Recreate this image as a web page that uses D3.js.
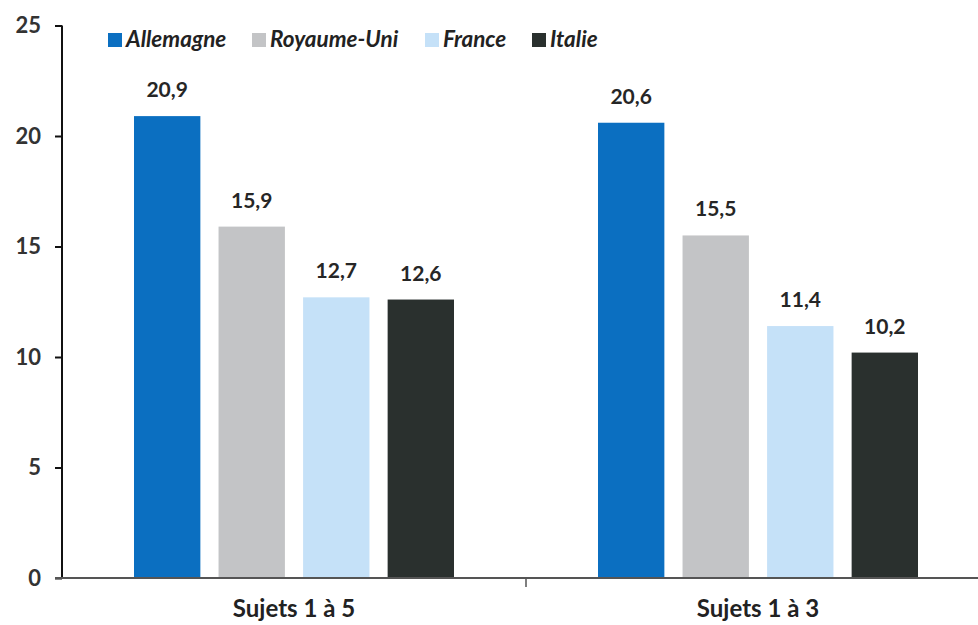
<!DOCTYPE html>
<html>
<head>
<meta charset="utf-8">
<script src="https://cdn.jsdelivr.net/npm/d3@7"></script>
<style>
  html, body { margin: 0; padding: 0; background: #fff; }
  svg { display: block; }
  text { font-family: Lato, "Open Sans", sans-serif; }
</style>
</head>
<body>
<svg id="chart" width="978" height="625"></svg>
<script>
// Categories and series
const categories = ["Sujets 1 à 5", "Sujets 1 à 3"];
const countries = ["Allemagne", "Royaume-Uni", "France", "Italie"];
const allemagne = [20.9, 20.6];
const royaumeUni = [15.9, 15.5];
const france = [12.7, 11.4];
const italie = [12.6, 10.2];
const yTicks = [0, 5, 10, 15, 20, 25];
const colors = ["#0b6fc1", "#c3c4c6", "#c5e1f8", "#2a302e"];

const seriesValues = [allemagne, royaumeUni, france, italie];
const rows = categories.map((c, i) => ({
  category: c,
  values: countries.map((k, j) => ({ country: k, value: seriesValues[j][i], color: colors[j] }))
}));

const svg = d3.select("#chart");
const x0 = d3.scaleBand().domain(categories).range([62, 990]).paddingInner(0).paddingOuter(0);
const y = d3.scaleLinear().domain([0, 25]).range([578, 25.5]);

// Inner scale spans the four bars of a group
const groupWidth = 320;
const x1 = d3.scaleBand().domain(countries).range([0, groupWidth]).paddingInner(0.215).paddingOuter(0);

// Bars
const groups = svg.append("g").selectAll("g").data(rows).join("g")
  .attr("transform", d => `translate(${x0(d.category) + x0.bandwidth() / 2 - groupWidth / 2},0)`);

groups.selectAll("rect").data(d => d.values).join("rect")
  .attr("x", d => x1(d.country))
  .attr("y", d => y(d.value))
  .attr("width", x1.bandwidth())
  .attr("height", d => y(0) - y(d.value))
  .attr("fill", d => d.color);

// Value labels
groups.selectAll("text.val").data(d => d.values).join("text")
  .attr("class", "val")
  .attr("x", d => x1(d.country) + x1.bandwidth() / 2)
  .attr("y", d => y(d.value) - 19)
  .attr("text-anchor", "middle")
  .attr("font-size", 21)
  .attr("font-weight", 700)
  .attr("fill", "#262626")
  .text(d => d3.format(".1f")(d.value).replace(".", ","));

// Y axis
const yAxis = svg.append("g")
  .attr("transform", "translate(62,0)")
  .call(d3.axisLeft(y).tickValues(yTicks).tickSize(7).tickPadding(14).tickFormat(d3.format("d")));
yAxis.select(".domain").attr("stroke", "#111").attr("stroke-width", 2).attr("d", `M0,${y(25)}V${y(0)}`);
yAxis.selectAll(".tick line").attr("stroke", "#111").attr("stroke-width", 2);
yAxis.selectAll(".tick text")
  .attr("font-size", 22).attr("font-weight", 700).attr("fill", "#333")
  .style("font-family", "Lato, sans-serif");

// X axis
const xAxis = svg.append("g")
  .attr("transform", `translate(0,${y(0)})`)
  .call(d3.axisBottom(x0).tickSize(0).tickPadding(22));
xAxis.select(".domain").attr("stroke", "#555").attr("stroke-width", 2).attr("d", `M55,0H978`);
xAxis.selectAll(".tick text")
  .attr("font-size", 24).attr("font-weight", 700).attr("fill", "#222")
  .style("font-family", "Lato, sans-serif");
// Separator tick between the two groups
svg.append("line")
  .attr("x1", x0(categories[1])).attr("x2", x0(categories[1]))
  .attr("y1", y(0)).attr("y2", y(0) + 9)
  .attr("stroke", "#555").attr("stroke-width", 1.5);

// Legend
const legendX = [108, 252, 425, 532];
const legend = svg.append("g").selectAll("g").data(countries).join("g")
  .attr("transform", (d, i) => `translate(${legendX[i]},33)`);
legend.append("rect").attr("width", 14).attr("height", 14).attr("y", 0)
  .attr("fill", (d, i) => colors[i]);
legend.append("text")
  .attr("x", 18).attr("y", 14)
  .attr("font-size", 22.5).attr("font-weight", 700).attr("font-style", "italic")
  .attr("fill", "#222")
  .text(d => d);
</script>
</body>
</html>
